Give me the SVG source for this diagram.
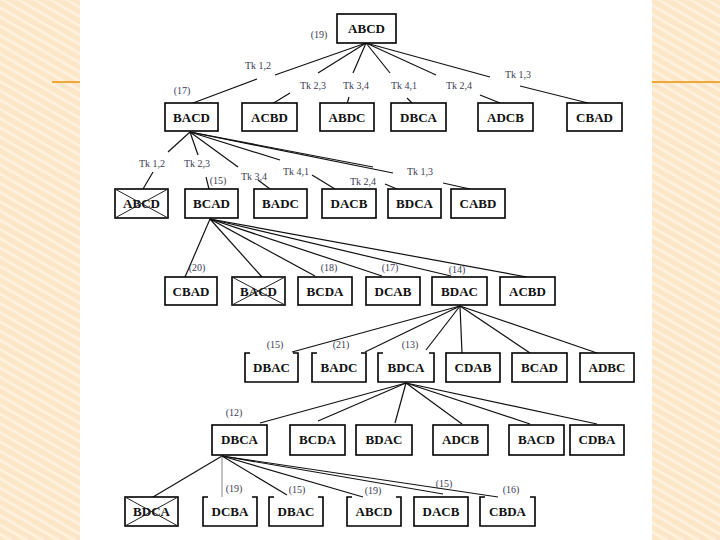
<svg xmlns="http://www.w3.org/2000/svg" width="720" height="540" viewBox="0 0 720 540">
<defs>
<pattern id="stripes" width="8" height="8" patternUnits="userSpaceOnUse" patternTransform="rotate(-60)">
<rect width="8" height="8" fill="#fce6c8"/>
<rect width="3" height="8" fill="#fdf0dc"/>
</pattern>
<style>
.box{fill:#fff;stroke:#000;stroke-width:1.6}
.brk{fill:none;stroke:#000;stroke-width:1.6}
.t{font-family:"Liberation Serif","DejaVu Serif",serif;font-weight:bold;font-size:13px;text-anchor:middle;fill:#111}
.lb{font-family:"Liberation Serif","DejaVu Serif",serif;font-size:10px;fill:#3c3a55;text-anchor:middle}
.e line{stroke:#111;stroke-width:1.2}
.x line{stroke:#222;stroke-width:1}
</style>
</defs>
<rect x="0" y="0" width="720" height="540" fill="url(#stripes)"/>
<rect x="80" y="0" width="572" height="540" fill="#fff"/>
<line x1="52" y1="82" x2="80" y2="82" stroke="#f0a838" stroke-width="2"/>
<line x1="652" y1="82" x2="720" y2="82" stroke="#f0a838" stroke-width="2"/>

<g id="connectors" class="e">
<!-- row1 -> row2 -->
<line x1="366" y1="43" x2="275" y2="75"/><line x1="257" y1="79" x2="193" y2="103"/>
<line x1="366" y1="43" x2="318" y2="73"/><line x1="290" y1="93" x2="272" y2="104"/>
<line x1="366" y1="43" x2="353" y2="73"/><line x1="349" y1="97" x2="347" y2="104"/>
<line x1="366" y1="43" x2="390" y2="73"/><line x1="407" y1="98" x2="413" y2="104"/>
<line x1="366" y1="43" x2="436" y2="75"/><line x1="480" y1="95" x2="500" y2="103"/>
<line x1="366" y1="43" x2="490" y2="77"/><line x1="520" y1="86" x2="588" y2="103"/>
<!-- row2 -> row3 -->
<line x1="190" y1="132" x2="168" y2="152"/><line x1="153" y1="172" x2="143" y2="189"/>
<line x1="190" y1="132" x2="198" y2="155"/><line x1="206" y1="177" x2="209" y2="189"/>
<line x1="190" y1="132" x2="238" y2="167"/><line x1="258" y1="180" x2="270" y2="189"/>
<line x1="190" y1="132" x2="280" y2="160"/><line x1="312" y1="175" x2="335" y2="189"/>
<line x1="190" y1="132" x2="373" y2="167"/><line x1="385" y1="184" x2="397" y2="189"/>
<line x1="190" y1="132" x2="393" y2="173"/><line x1="443" y1="183" x2="470" y2="189"/>
<!-- row3 -> row4 -->
<line x1="210" y1="219" x2="185" y2="277"/>
<line x1="210" y1="219" x2="262" y2="277"/>
<line x1="210" y1="219" x2="315" y2="276"/>
<line x1="210" y1="219" x2="382" y2="276"/>
<line x1="210" y1="219" x2="451" y2="276"/>
<line x1="210" y1="219" x2="527" y2="277"/>
<!-- row4 -> row5 -->
<line x1="460" y1="306" x2="292" y2="352"/>
<line x1="460" y1="306" x2="365" y2="352"/>
<line x1="460" y1="306" x2="426" y2="350"/>
<line x1="460" y1="306" x2="462" y2="353"/>
<line x1="460" y1="306" x2="530" y2="353"/>
<line x1="460" y1="306" x2="597" y2="353"/>
<!-- row5 -> row6 -->
<line x1="406" y1="383" x2="260" y2="423"/>
<line x1="406" y1="383" x2="318" y2="421"/>
<line x1="406" y1="383" x2="395" y2="423"/>
<line x1="406" y1="383" x2="462" y2="424"/>
<line x1="406" y1="383" x2="530" y2="424"/>
<line x1="406" y1="383" x2="597" y2="424"/>
<!-- row6 -> row7 -->
<line x1="222" y1="456" x2="153" y2="497"/>
<line x1="222" y1="456" x2="222" y2="497" style="stroke:#999"/>
<line x1="222" y1="456" x2="287" y2="495"/>
<line x1="222" y1="456" x2="363" y2="497"/>
<line x1="222" y1="456" x2="443" y2="494"/>
<line x1="222" y1="456" x2="498" y2="497"/>
</g>

<g id="labels">
<text class="lb" x="319" y="38">(19)</text>
<text class="lb" x="258" y="69">Tk 1,2</text>
<text class="lb" x="313" y="89">Tk 2,3</text>
<text class="lb" x="356" y="89">Tk 3,4</text>
<text class="lb" x="404" y="89">Tk 4,1</text>
<text class="lb" x="459" y="89">Tk 2,4</text>
<text class="lb" x="518" y="78">Tk 1,3</text>
<text class="lb" x="182" y="94">(17)</text>
<text class="lb" x="152" y="167">Tk 1,2</text>
<text class="lb" x="197" y="167">Tk 2,3</text>
<text class="lb" x="218" y="184">(15)</text>
<text class="lb" x="254" y="180">Tk 3,4</text>
<text class="lb" x="296" y="175">Tk 4,1</text>
<text class="lb" x="363" y="185">Tk 2,4</text>
<text class="lb" x="420" y="175">Tk 1,3</text>
<text class="lb" x="197" y="271">(20)</text>
<text class="lb" x="329" y="271">(18)</text>
<text class="lb" x="390" y="271">(17)</text>
<text class="lb" x="457" y="273">(14)</text>
<text class="lb" x="275" y="348">(15)</text>
<text class="lb" x="341" y="348">(21)</text>
<text class="lb" x="410" y="348">(13)</text>
<text class="lb" x="234" y="416">(12)</text>
<text class="lb" x="234" y="492">(19)</text>
<text class="lb" x="297" y="493">(15)</text>
<text class="lb" x="373" y="494">(19)</text>
<text class="lb" x="444" y="487">(15)</text>
<text class="lb" x="511" y="493">(16)</text>
</g>

<g id="n1"><rect class="box" x="337" y="14" width="59" height="29"/><text class="t" x="366.5" y="33">ABCD</text></g>

<g id="n2a"><rect class="box" x="165" y="103" width="53" height="28"/><text class="t" x="191.5" y="122">BACD</text></g>
<g id="n2b"><rect class="box" x="242" y="103" width="55" height="28"/><text class="t" x="269.5" y="122">ACBD</text></g>
<g id="n2c"><rect class="box" x="320" y="103" width="54" height="28"/><text class="t" x="347" y="122">ABDC</text></g>
<g id="n2d"><rect class="box" x="391" y="103" width="55" height="28"/><text class="t" x="418.5" y="122">DBCA</text></g>
<g id="n2e"><rect class="box" x="478" y="103" width="55" height="28"/><text class="t" x="505.5" y="122">ADCB</text></g>
<g id="n2f"><rect class="box" x="567" y="103" width="55" height="28"/><text class="t" x="594.5" y="122">CBAD</text></g>

<g id="n3a"><rect class="box" x="115" y="189" width="53" height="29"/><text class="t" x="141.5" y="208">ABCD</text><g class="x"><line x1="115" y1="189" x2="168" y2="218"/><line x1="115" y1="218" x2="168" y2="189"/></g></g>
<g id="n3b"><rect class="box" x="185" y="189" width="53" height="29"/><text class="t" x="211.5" y="208">BCAD</text></g>
<g id="n3c"><rect class="box" x="254" y="189" width="53" height="29"/><text class="t" x="280.5" y="208">BADC</text></g>
<g id="n3d"><rect class="box" x="322" y="189" width="54" height="29"/><text class="t" x="349" y="208">DACB</text></g>
<g id="n3e"><rect class="box" x="388" y="189" width="53" height="29"/><text class="t" x="414.5" y="208">BDCA</text></g>
<g id="n3f"><rect class="box" x="451" y="189" width="54" height="29"/><text class="t" x="478" y="208">CABD</text></g>

<g id="n4a"><rect class="box" x="165" y="277" width="52" height="28"/><text class="t" x="191" y="296">CBAD</text></g>
<g id="n4b"><rect class="box" x="232" y="277" width="53" height="28"/><text class="t" x="258.5" y="296">BACD</text><g class="x"><line x1="232" y1="277" x2="285" y2="305"/><line x1="232" y1="305" x2="285" y2="277"/></g></g>
<g id="n4c"><rect class="box" x="298" y="277" width="54" height="28"/><text class="t" x="325" y="296">BCDA</text></g>
<g id="n4d"><rect class="box" x="366" y="277" width="54" height="28"/><text class="t" x="393" y="296">DCAB</text></g>
<g id="n4e"><rect class="box" x="432" y="277" width="55" height="28"/><text class="t" x="459.5" y="296">BDAC</text></g>
<g id="n4f"><rect class="box" x="500" y="277" width="55" height="28"/><text class="t" x="527.5" y="296">ACBD</text></g>

<g id="n5a"><path class="brk" d="M250,353 H245 V382 H298 V353 H293"/><text class="t" x="271.5" y="372">DBAC</text></g>
<g id="n5b"><path class="brk" d="M317,353 H312 V382 H366 V353 H361"/><text class="t" x="339" y="372">BADC</text></g>
<g id="n5c"><path class="brk" d="M383,353 H378 V382 H434 V353 H429"/><text class="t" x="406" y="372">BDCA</text></g>
<g id="n5d"><rect class="box" x="446" y="353" width="54" height="29"/><text class="t" x="473" y="372">CDAB</text></g>
<g id="n5e"><rect class="box" x="512" y="353" width="55" height="29"/><text class="t" x="539.5" y="372">BCAD</text></g>
<g id="n5f"><rect class="box" x="580" y="353" width="54" height="29"/><text class="t" x="607" y="372">ADBC</text></g>

<g id="n6a"><rect class="box" x="212" y="425" width="55" height="30"/><text class="t" x="239.5" y="444">DBCA</text></g>
<g id="n6b"><rect class="box" x="290" y="425" width="55" height="30"/><text class="t" x="317.5" y="444">BCDA</text></g>
<g id="n6c"><rect class="box" x="356" y="425" width="56" height="30"/><text class="t" x="384" y="444">BDAC</text></g>
<g id="n6d"><rect class="box" x="433" y="425" width="55" height="30"/><text class="t" x="460.5" y="444">ADCB</text></g>
<g id="n6e"><rect class="box" x="509" y="425" width="55" height="30"/><text class="t" x="536.5" y="444">BACD</text></g>
<g id="n6f"><rect class="box" x="570" y="425" width="54" height="30"/><text class="t" x="597" y="444">CDBA</text></g>

<g id="n7a"><rect class="box" x="125" y="497" width="53" height="29"/><text class="t" x="151.5" y="516">BDCA</text><g class="x"><line x1="125" y1="497" x2="178" y2="526"/><line x1="125" y1="526" x2="178" y2="497"/></g></g>
<g id="n7b"><path class="brk" d="M208,497 H203 V526 H257 V497 H252"/><text class="t" x="230" y="516">DCBA</text></g>
<g id="n7c"><path class="brk" d="M274,497 H269 V526 H323 V497 H318"/><text class="t" x="296" y="516">DBAC</text></g>
<g id="n7d"><path class="brk" d="M352,497 H347 V526 H401 V497 H396"/><text class="t" x="374" y="516">ABCD</text></g>
<g id="n7e"><rect class="box" x="414" y="497" width="54" height="29"/><text class="t" x="441" y="516">DACB</text></g>
<g id="n7f"><path class="brk" d="M485,497 H480 V526 H535 V497 H530"/><text class="t" x="507.5" y="516">CBDA</text></g>
</svg>
